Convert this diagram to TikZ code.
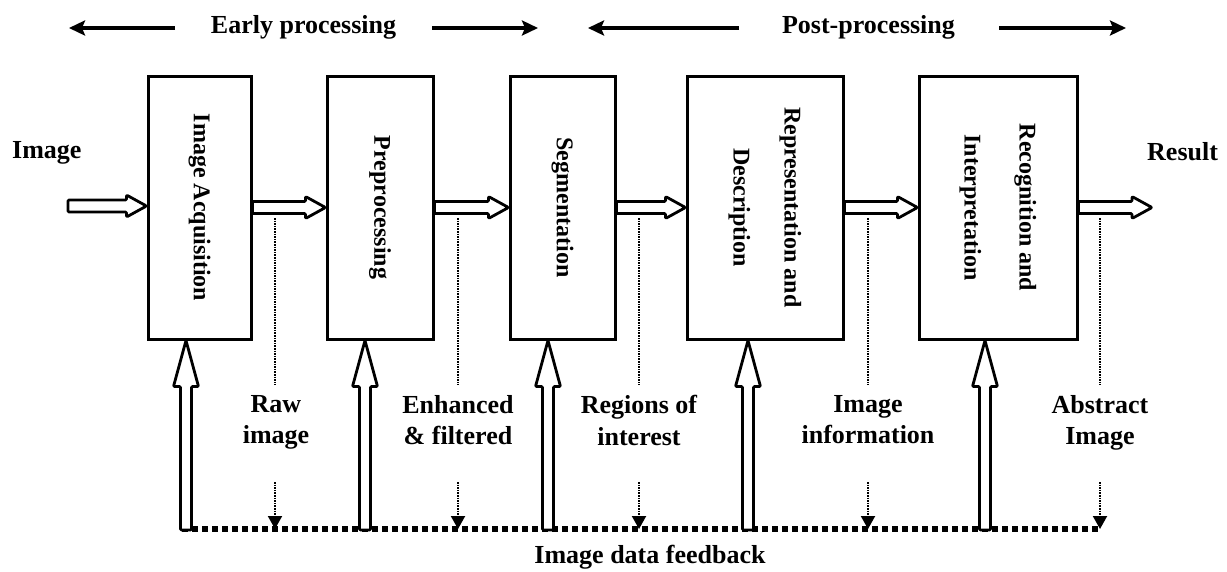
\documentclass[tikz,border=0pt]{standalone}
\usepackage{fontspec}
\setmainfont{Liberation Serif}
\usetikzlibrary{arrows.meta,calc}

\tikzset{
  lbl/.style={font=\bfseries\fontsize{26}{31.5}\selectfont, inner sep=0pt, align=center},
  stage/.style={draw, line width=3pt, inner sep=0pt, font=\bfseries\fontsize{24}{29}\selectfont},
  hollow/.style={draw, line width=2.8pt, fill=white, line join=round, rounded corners=1pt},
  spanarrow/.style={line width=3.5pt, -{Stealth[length=16pt,width=15pt,inset=3pt]}},
  thindots/.style={line width=2pt, dash pattern=on 1.6pt off 1pt},
  fbline/.style={line width=6pt, dash pattern=on 6pt off 4pt},
  dotarrow/.style={thindots, -{Triangle[length=13pt,width=14pt]}}
}

% hollow block arrow pointing right, from #1 to #2
\newcommand\harrow[2]{%
  \draw[hollow] let \p1=(#1), \p2=(#2) in
    (\x1,\y1+6pt) -- (\x2-20pt,\y1+6pt) -- (\x2-20pt,\y1+11pt) -- (\x2,\y1)
    -- (\x2-20pt,\y1-11pt) -- (\x2-20pt,\y1-6pt) -- (\x1,\y1-6pt) -- cycle;}
% hollow block arrow pointing up, from #1 to the bottom of #2
\newcommand\varrow[2]{%
  \draw[hollow] let \p1=(#1), \p2=(#2) in
    (\x1-5.5pt,\y1) -- (\x1-5.5pt,\y2-46pt) -- (\x1-12.5pt,\y2-46pt) -- (\x1,\y2)
    -- (\x1+12.5pt,\y2-46pt) -- (\x1+5.5pt,\y2-46pt) -- (\x1+5.5pt,\y1) -- cycle;}

\begin{document}
\begin{tikzpicture}[x=1pt,y=-1pt]
\useasboundingbox (0,0) rectangle (1227,571);

% phase headings
\node[lbl, anchor=base] (ep) at (303.5,33) {Early processing};
\node[lbl, anchor=base] (pp) at (868.5,33) {Post-processing};
\coordinate (ea1) at (175,28);  \coordinate (ea2) at (69,28);
\coordinate (ea3) at (432,28);  \coordinate (ea4) at (538,28);
\coordinate (pa1) at (739,28);  \coordinate (pa2) at (588,28);
\coordinate (pa3) at (999,28);  \coordinate (pa4) at (1126,28);
\draw[spanarrow] (ea1) -- (ea2);
\draw[spanarrow] (ea3) -- (ea4);
\draw[spanarrow] (pa1) -- (pa2);
\draw[spanarrow] (pa3) -- (pa4);

% processing stages
\node[stage, minimum width=103pt, minimum height=263pt] (acq) at (199.5,207.5)
  {\rotatebox{-90}{Image Acquisition}};
\node[stage, minimum width=106pt, minimum height=263pt] (pre) at (380,207.5)
  {\rotatebox{-90}{Preprocessing}};
\node[stage, minimum width=105pt, minimum height=263pt] (seg) at (562.5,207.5)
  {\rotatebox{-90}{Segmentation}};
\node[stage, minimum width=156pt, minimum height=263pt] (rep) at (765,207.5)
  {\rotatebox{-90}{\begin{tabular}{@{}c@{}}Representation and\\[22pt]Description\end{tabular}}};
\node[stage, minimum width=158pt, minimum height=263pt] (rec) at (998,207.5)
  {\rotatebox{-90}{\begin{tabular}{@{}c@{}}Recognition and\\[26pt]Interpretation\end{tabular}}};

% input and output
\node[lbl, anchor=base west] (inlbl) at (12,158) {Image};
\node[lbl, anchor=base west] (outlbl) at (1147,160) {Result};
\coordinate (in) at (68,206);
\coordinate (out) at (1152,206);

\harrow{in}{acq.west}
\harrow{acq.east}{pre.west}
\harrow{pre.east}{seg.west}
\harrow{seg.east}{rep.west}
\harrow{rep.east}{rec.west}
\harrow{rec.east}{out}

% intermediate data labels with dotted taps
\node[lbl, anchor=north] (raw) at (276,395) {Raw\\image};
\node[lbl, anchor=north] (enh) at (458,395) {Enhanced\\\& filtered};
\node[lbl, anchor=north] (roi) at (639,395) {Regions of\\interest};
\node[lbl, anchor=north] (inf) at (868,395) {Image\\information};
\node[lbl, anchor=north] (abs) at (1100,395) {Abstract\\Image};

\foreach \n/\x in {1/275,2/458,3/639,4/868,5/1100}{
  \coordinate (t\n) at (\x,218);
  \coordinate (u\n) at (\x,385);
  \coordinate (v\n) at (\x,482);
  \coordinate (w\n) at (\x,529);
  \draw[thindots] (t\n) -- (u\n);
  \draw[dotarrow] (v\n) -- (w\n);
}

% feedback bus
\coordinate (f1) at (186,530);
\coordinate (f2) at (365,530);
\coordinate (f3) at (548,530);
\coordinate (f4) at (748,530);
\coordinate (f5) at (985,530);
\draw[fbline] (182,529) -- (w5);
\node[lbl, anchor=base] (fb) at (650,563) {Image data feedback};

\varrow{f1}{acq.south}
\varrow{f2}{pre.south}
\varrow{f3}{seg.south}
\varrow{f4}{rep.south}
\varrow{f5}{rec.south}
\end{tikzpicture}
\end{document}
